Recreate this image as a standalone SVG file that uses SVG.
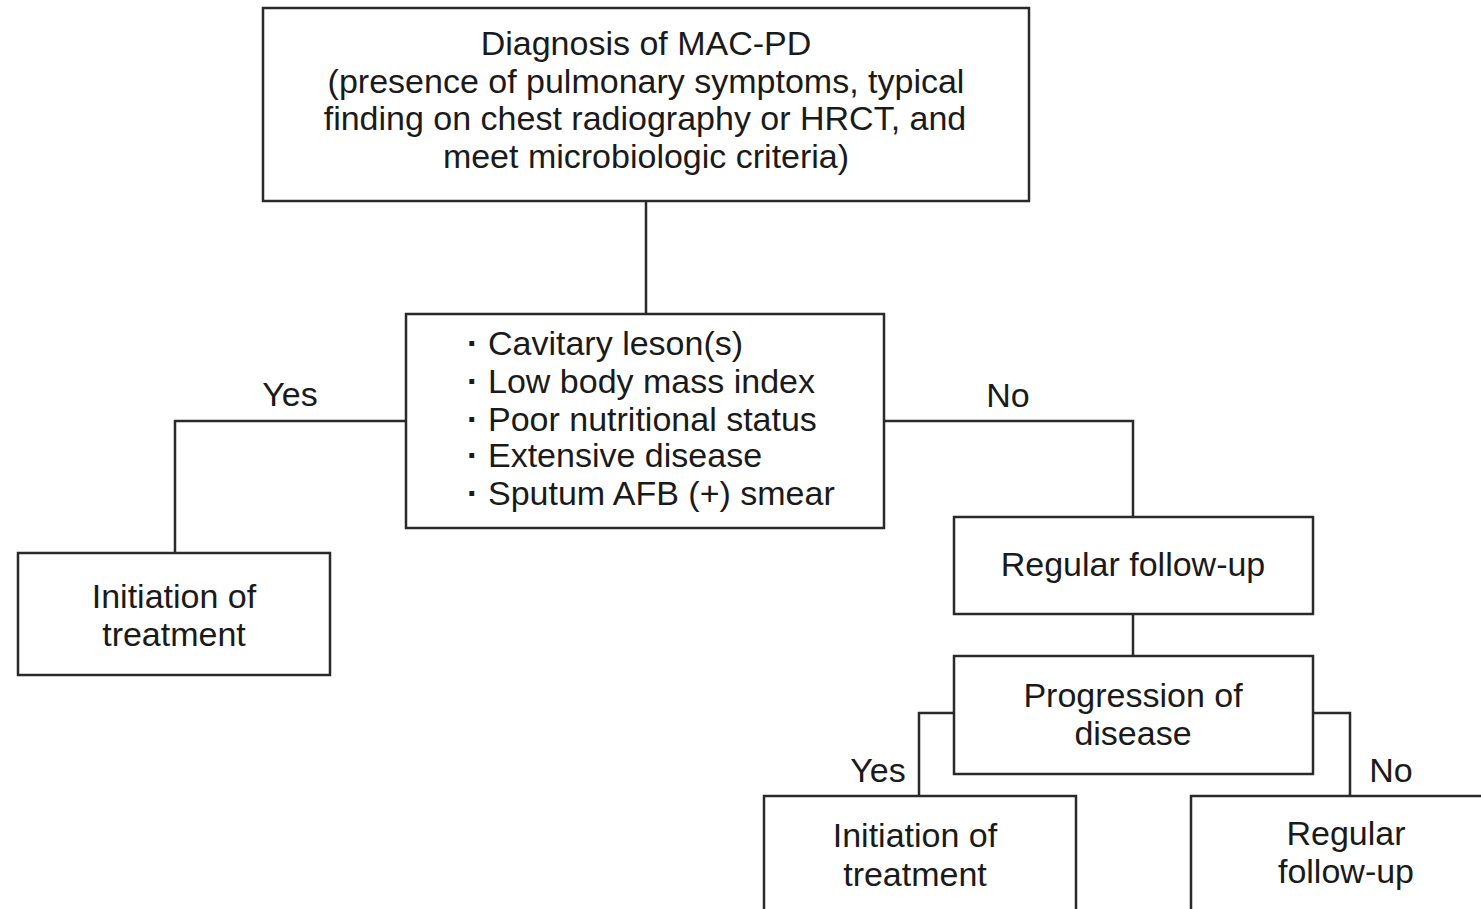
<svg xmlns="http://www.w3.org/2000/svg" width="1481" height="909" viewBox="0 0 1481 909">
<style>
.box{fill:#fff;stroke:#2a2a2a;stroke-width:2.5}
.ln{fill:none;stroke:#2a2a2a;stroke-width:2.5}
text{font-family:"Liberation Sans",Arial,sans-serif;font-size:34px;fill:#1a1a1a}
.c{text-anchor:middle}
.b{font-weight:bold}
</style>
<rect width="1481" height="909" fill="#fff"/>
<g id="connectors">
<path class="ln" d="M646 201V314"/>
<path class="ln" d="M406 421H175V553"/>
<path class="ln" d="M884 421H1133V517"/>
<path class="ln" d="M1133 614V656"/>
<path class="ln" d="M954 713H919V796"/>
<path class="ln" d="M1313 713H1350V796"/>
<text x="290" y="406" class="c">Yes</text>
<text x="1008" y="407" class="c">No</text>
<text x="878" y="782" class="c">Yes</text>
<text x="1391" y="782" class="c">No</text>
</g>
<g id="diagnosis">
<rect class="box" x="263" y="8" width="766" height="193"/>
<text x="646" y="55" class="c">Diagnosis of MAC-PD</text>
<text x="646" y="93" class="c">(presence of pulmonary symptoms, typical</text>
<text x="645" y="130" class="c">finding on chest radiography or HRCT, and</text>
<text x="646" y="168" class="c">meet microbiologic criteria)</text>
</g>
<g id="criteria">
<rect class="box" x="406" y="314" width="478" height="214"/>
<text x="467" y="355"><tspan class="b">·</tspan><tspan x="488">Cavitary leson(s)</tspan></text>
<text x="467" y="393"><tspan class="b">·</tspan><tspan x="488">Low body mass index</tspan></text>
<text x="467" y="431"><tspan class="b">·</tspan><tspan x="488">Poor nutritional status</tspan></text>
<text x="467" y="467"><tspan class="b">·</tspan><tspan x="488">Extensive disease</tspan></text>
<text x="467" y="505"><tspan class="b">·</tspan><tspan x="488">Sputum AFB (+) smear</tspan></text>
</g>
<g id="treat1">
<rect class="box" x="18" y="553" width="312" height="122"/>
<text x="174" y="608" class="c">Initiation of</text>
<text x="174" y="646" class="c">treatment</text>
</g>
<g id="followup1">
<rect class="box" x="954" y="517" width="359" height="97"/>
<text x="1133" y="576" class="c">Regular follow-up</text>
</g>
<g id="progression">
<rect class="box" x="954" y="656" width="359" height="118"/>
<text x="1133" y="707" class="c">Progression of</text>
<text x="1133" y="745" class="c">disease</text>
</g>
<g id="treat2">
<rect class="box" x="764" y="796" width="312" height="130"/>
<text x="915" y="847" class="c">Initiation of</text>
<text x="915" y="886" class="c">treatment</text>
</g>
<g id="followup2">
<rect class="box" x="1191" y="796" width="310" height="130"/>
<text x="1346" y="845" class="c">Regular</text>
<text x="1346" y="883" class="c">follow-up</text>
</g>
</svg>
